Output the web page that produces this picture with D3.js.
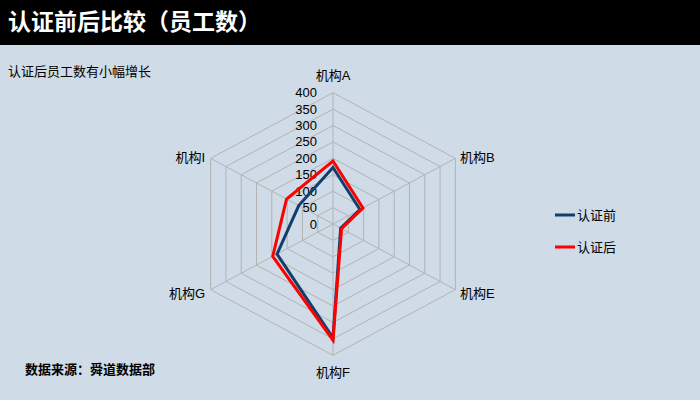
<!DOCTYPE html>
<html lang="zh">
<head>
<meta charset="utf-8">
<title>认证前后比较（员工数）</title>
<script src="https://cdn.jsdelivr.net/npm/d3@7"></script>
<style>
  body { margin: 0; background: #cfdbe6; }
  svg { display: block; font-family: "Liberation Sans", Arial, "Noto Sans CJK SC", sans-serif; }
</style>
</head>
<body>
<script>
// data
var categories = ["机构A", "机构B", "机构E", "机构F", "机构G", "机构I"];
var before = [172, 88, 25, 347, 183, 112];
var after = [192, 98, 28, 354, 197, 152];
var ticks = [0, 50, 100, 150, 200, 250, 300, 350, 400];
var seriesNames = ["认证前", "认证后"];
var colors = ["#123e6e", "#ff0000"];

var w = 700, h = 400;
var cx = 333, cy = 224;
var xStretch = 1.076; // the original is a bit wider than tall

var svg = d3.select("body").append("svg")
  .attr("width", w)
  .attr("height", h);

svg.append("rect").attr("width", w).attr("height", h).attr("fill", "#cfdbe6");

// title bar
svg.append("rect").attr("width", w).attr("height", 45).attr("fill", "#000");
svg.append("text")
  .attr("x", 8).attr("y", 30)
  .attr("fill", "#fff")
  .attr("font-size", 23)
  .attr("font-weight", "bold")
  .text("认证前后比较（员工数）");

svg.append("text")
  .attr("x", 8).attr("y", 76)
  .attr("font-size", 13)
  .text("认证后员工数有小幅增长");

svg.append("text")
  .attr("x", 25).attr("y", 374)
  .attr("font-size", 13)
  .attr("font-weight", "bold")
  .text("数据来源：舜道数据部");

var rScale = d3.scaleLinear().domain([0, 400]).range([0, 131.3]);
var angle = d3.scalePoint().domain(categories).range([0, 2 * Math.PI * 5 / 6]);

function pt(cat, v) {
  var a = angle(cat);
  return [cx + Math.sin(a) * rScale(v) * xStretch, cy - Math.cos(a) * rScale(v)];
}

var g = svg.append("g");

// grid rings
ticks.slice(1).forEach(function(t) {
  g.append("polygon")
    .attr("points", categories.map(function(c) { return pt(c, t).join(","); }).join(" "))
    .attr("fill", "none")
    .attr("stroke", "#b3b3b3")
    .attr("stroke-width", 1);
});

// spokes
categories.forEach(function(c) {
  var p = pt(c, 400);
  g.append("line")
    .attr("x1", cx).attr("y1", cy)
    .attr("x2", p[0]).attr("y2", p[1])
    .attr("stroke", "#b3b3b3");
});

// tick labels
g.selectAll(".tick")
  .data(ticks)
  .enter()
  .append("text")
  .attr("x", cx - 16)
  .attr("y", function(d) { return cy - rScale(d); })
  .attr("dy", "0.35em")
  .attr("text-anchor", "end")
  .attr("font-size", 13)
  .text(function(d) { return d; });

// category labels
var labelPos = {
  "机构A": { x: cx, y: 75, anchor: "middle" },
  "机构B": { x: 460, y: 157, anchor: "start" },
  "机构E": { x: 460, y: 293, anchor: "start" },
  "机构F": { x: cx, y: 372, anchor: "middle" },
  "机构G": { x: 205, y: 293, anchor: "end" },
  "机构I": { x: 205, y: 157, anchor: "end" }
};
g.selectAll(".cat")
  .data(categories)
  .enter()
  .append("text")
  .attr("x", function(d) { return labelPos[d].x; })
  .attr("y", function(d) { return labelPos[d].y; })
  .attr("dy", "0.35em")
  .attr("text-anchor", function(d) { return labelPos[d].anchor; })
  .attr("font-size", 13)
  .text(function(d) { return d; });

// series lines
var line = d3.line().curve(d3.curveLinearClosed);
[before, after].forEach(function(vals, i) {
  g.append("path")
    .attr("d", line(categories.map(function(c, j) { return pt(c, vals[j]); })))
    .attr("fill", "none")
    .attr("stroke", colors[i])
    .attr("stroke-width", 3)
    .attr("stroke-linejoin", "miter");
});

// legend
var legend = svg.append("g");
seriesNames.forEach(function(n, i) {
  var y = 215 + i * 32;
  legend.append("line")
    .attr("x1", 555).attr("x2", 575)
    .attr("y1", y).attr("y2", y)
    .attr("stroke", colors[i])
    .attr("stroke-width", 3);
  legend.append("text")
    .attr("x", 577).attr("y", y)
    .attr("dy", "0.35em")
    .attr("font-size", 13)
    .text(n);
});
</script>
</body>
</html>
